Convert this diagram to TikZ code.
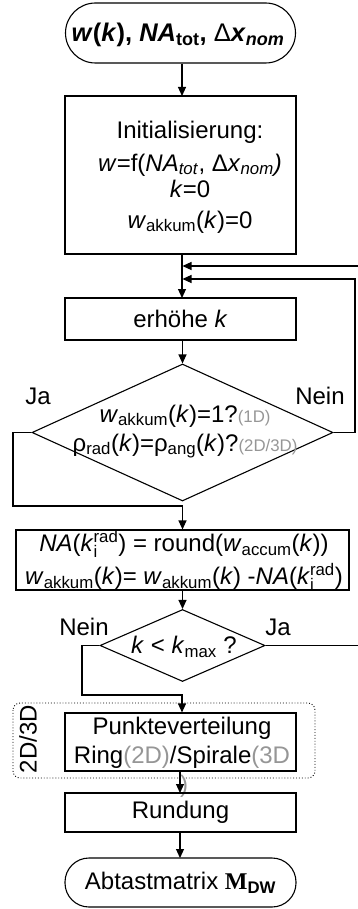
\documentclass[tikz,border=0pt]{standalone}
\usepackage{fontspec}
\setmainfont{Liberation Sans}
\newfontfamily\serifM{Liberation Serif}
\usetikzlibrary{arrows.meta,shapes.geometric}
\definecolor{anno}{RGB}{150,150,150}
\newcommand\sm[1]{\mbox{\fontsize{16.8}{17}\selectfont #1}}
\newcommand\smb[1]{\mbox{\fontsize{18}{18}\selectfont #1}}
\newcommand\lo[1]{$_{\sm{#1}}$}
\newcommand\lob[1]{$_{\smb{#1}}$}
\newcommand\subsup[2]{$_{\sm{#1}}^{\sm{#2}}$}
\tikzset{
  every node/.style={font=\fontsize{24}{26}\selectfont},
  ln/.style={line width=1.1pt},
  arr/.style={ln,-{Triangle[length=9pt,width=8pt]}},
  boxn/.style={ln,draw,rectangle,inner sep=0pt,align=center},
  term/.style={ln,draw,rectangle,inner sep=0pt,align=center},
  dia/.style={ln,draw,diamond,inner sep=0pt},
  txt/.style={inner sep=0pt,align=center},
}
\begin{document}
\begin{tikzpicture}[x=1pt,y=-1pt]
\useasboundingbox (0,0) rectangle (358,909);
% group box
\draw[line width=0.9pt,dotted,rounded corners=7pt] (13,703) rectangle (315,778);
\node[txt,rotate=90] (lbl3d) at (28,739) {2D/3D};
% nodes
\node[term,rounded corners=30pt,minimum width=230pt,minimum height=60pt] (top) at (180.5,33) {};
\node[txt,font=\fontsize{25.5}{27}\selectfont] (toptxt) at (178,35)
  {\textbf{\textit{w}(\textit{k}), \textit{NA}\lob{tot}, {\mdseries Δ}\textit{x}\lob{\textit{nom}}}};
\node[boxn,minimum width=231pt,minimum height=158pt] (init) at (180.5,175) {};
\node[txt] (i1) at (190,132) {Initialisierung:};
\node[txt] (i2) at (190,165) {\textit{w}=f(\textit{NA}\lo{\textit{tot}}, Δ\textit{x}\lo{\textit{nom}}\textit{)}};
\node[txt] (i3) at (190,189) {\textit{k}=0};
\node[txt] (i4) at (190,222) {\textit{w}\lo{akkum}(\textit{k})=0};
\node[boxn,minimum width=231pt,minimum height=42pt] (erh) at (180.5,319) {erhöhe \textit{k}};
\node[dia,minimum width=301pt,minimum height=137pt] (d1) at (182.5,432.5) {};
\node[txt] (d1a) at (185,416) {\textit{w}\lo{akkum}(\textit{k})=1?{\color{anno}\fontsize{16.8}{17}\selectfont(1D)}};
\node[txt] (d1b) at (185,446) {ρ\lo{rad}(\textit{k})=ρ\lo{ang}(\textit{k})?{\color{anno}\fontsize{16.8}{17}\selectfont(2D/3D)}};
\node[boxn,minimum width=333pt,minimum height=60pt] (na) at (182.5,560) {};
\node[txt] (na1) at (184,544) {\textit{NA}(\textit{k}\subsup{i}{rad}) = round(\textit{w}\lo{accum}(\textit{k}))};
\node[txt] (na2) at (184,577) {\textit{w}\lo{akkum}(\textit{k})= \textit{w}\lo{akkum}(\textit{k}) -\textit{NA}(\textit{k}\subsup{i}{rad})};
\node[dia,minimum width=165pt,minimum height=72pt] (d2) at (182.5,645.5) {};
\node[txt] (d2t) at (184,647) {\textit{k} < \textit{k}\lo{max} ?};
\node[boxn,minimum width=231pt,minimum height=58pt] (pv) at (180.5,742) {};
\node[txt] (pv1) at (182,728) {Punkteverteilung};
\node[txt] (pv2) at (182,757) {Ring{\color{anno}(2D)}/Spirale{\color{anno}(3D}};
\node[txt,text=anno] (pv3) at (184,786) {)};
\node[boxn,minimum width=231pt,minimum height=39pt] (rund) at (180.5,812.5) {Rundung};
\node[term,rounded corners=24pt,minimum width=231pt,minimum height=49pt] (bot) at (180.5,882.5)
  {Abtastmatrix {\serifM\bfseries M}\lo{\textbf{DW}}};
% labels
\node[txt] (ja1) at (38,396) {Ja};
\node[txt] (nein1) at (320,396) {Nein};
\node[txt] (nein2) at (84,627) {Nein};
\node[txt] (ja2) at (278,627) {Ja};
% coordinates
\coordinate (j1) at (182.5,266);
\coordinate (j2) at (182.5,279);
\coordinate (r1) at (360,266);
\coordinate (r2) at (355,279);
\coordinate (l1) at (13,506);
\coordinate (l2) at (82,695);
% connectors
\draw[arr] (top.south -| 182,0) -- (182,96);
\draw[arr] (182,254) -- (182,298);
\draw[arr] (erh.south -| d1.north) -- (d1.north);
\draw[arr] (d2.east) -| (r1) -- (j1);
\draw[arr] (d1.east) -| (r2) -- (j2);
\draw[arr] (d1.west) -| (l1) -| (na.north);
\draw[arr] (na.south -| d2.north) -- (d2.north);
\draw[arr] (d2.west) -| (l2) -| (pv.north -| 182,0);
\draw[arr] (pv.south -| 180,0) -- (180,793);
\draw[arr] (rund.south -| 180,0) -- (180,858);
\end{tikzpicture}
\end{document}
